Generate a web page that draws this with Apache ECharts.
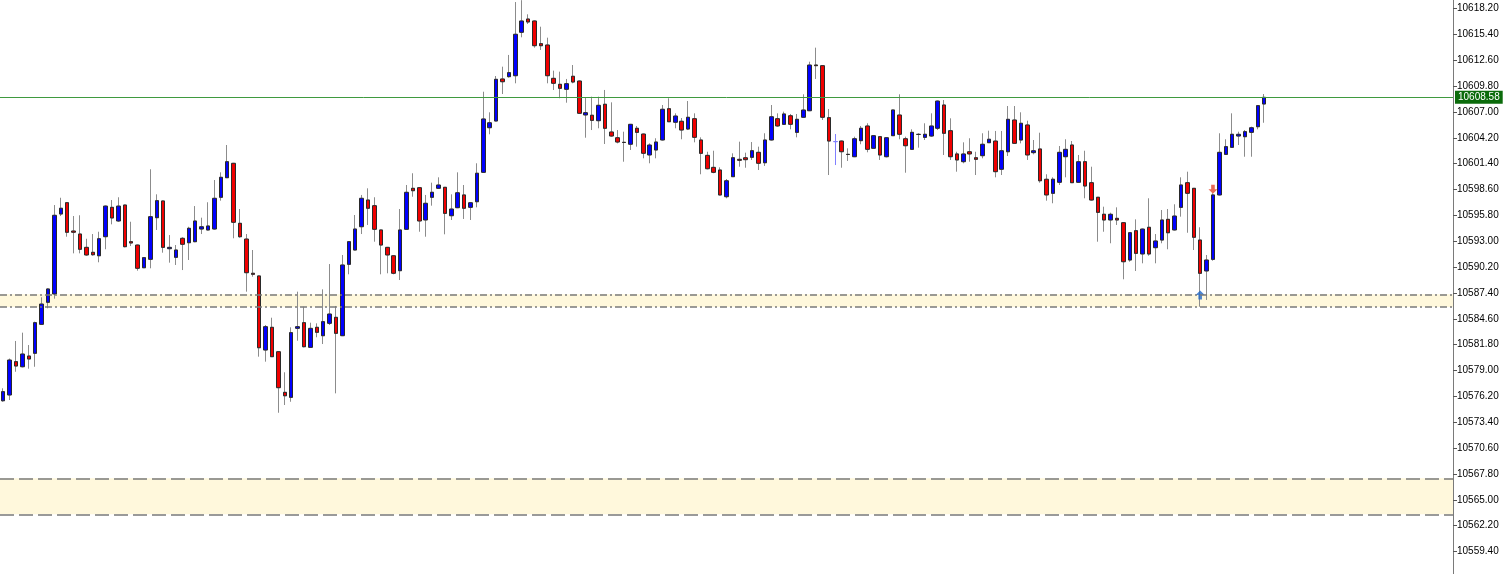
<!DOCTYPE html>
<html><head><meta charset="utf-8">
<script src="https://cdn.jsdelivr.net/npm/echarts@6/dist/echarts.min.js"></script>
<style>html,body{margin:0;padding:0;background:#fff}#c{width:1511px;height:574px}</style>
</head><body><div id="c"></div>
<script>
// [open, close, low, high]
const ohlc = [
[10575.73,10576.71,10575.62,10577.08],[10576.35,10580.14,10575.81,10580.30],[10579.96,10579.49,10578.87,10582.20],[10579.41,10580.79,10579.35,10583.10],
[10580.57,10580.25,10579.20,10581.76],[10580.87,10584.18,10579.41,10584.29],[10584.00,10586.20,10583.95,10586.93],[10586.39,10587.83,10585.74,10587.90],
[10587.29,10595.81,10586.78,10596.92],[10595.95,10596.57,10595.73,10597.71],[10597.17,10593.97,10593.49,10597.20],[10594.11,10593.97,10591.69,10595.73],
[10593.78,10592.13,10591.69,10595.81],[10592.34,10591.51,10591.43,10593.27],[10591.80,10591.54,10591.43,10593.78],[10591.43,10593.27,10590.72,10594.03],
[10593.49,10596.81,10592.13,10596.85],[10596.67,10595.52,10594.83,10597.46],[10595.19,10596.81,10595.10,10597.76],[10596.92,10592.41,10592.34,10596.95],
[10592.95,10592.81,10592.48,10595.11],[10592.59,10590.07,10589.81,10592.62],[10590.13,10591.22,10590.10,10591.25],[10591.04,10595.66,10590.07,10600.79],
[10595.55,10597.39,10594.22,10598.08],[10597.36,10592.34,10591.76,10597.40],[10592.19,10592.34,10590.68,10593.67],[10591.26,10592.05,10590.43,10592.59],
[10593.32,10592.67,10589.88,10593.43],[10592.84,10594.40,10590.97,10594.57],[10592.95,10595.19,10592.90,10596.81],[10594.32,10594.57,10593.78,10595.55],
[10594.22,10594.65,10594.18,10597.22],[10594.32,10597.65,10594.28,10599.63],[10597.76,10599.92,10597.39,10600.46],[10599.88,10601.61,10599.85,10603.42],
[10601.44,10595.05,10593.32,10601.47],[10594.94,10593.49,10593.38,10596.49],[10593.24,10589.59,10587.54,10593.78],[10589.53,10589.42,10589.16,10592.05],
[10589.24,10581.47,10580.50,10589.27],[10581.22,10583.75,10579.96,10583.93],[10583.68,10580.50,10580.47,10584.72],[10581.04,10577.14,10574.43,10581.07],
[10576.64,10576.27,10575.27,10578.81],[10576.10,10583.10,10575.62,10583.68],[10583.57,10583.75,10582.23,10587.54],[10584.18,10581.58,10581.51,10585.91],
[10581.51,10583.57,10581.48,10584.18],[10583.68,10583.14,10582.60,10584.11],[10582.77,10584.29,10581.87,10587.79],[10584.11,10585.12,10583.93,10590.53],
[10584.76,10583.03,10576.53,10585.99],[10582.77,10590.43,10582.74,10591.51],[10590.50,10592.95,10589.42,10592.98],[10592.05,10594.32,10592.02,10595.84],
[10594.57,10597.65,10593.78,10598.01],[10597.46,10596.57,10594.76,10598.73],[10596.85,10594.29,10592.95,10597.76],[10594.22,10592.59,10589.42,10594.25],
[10592.34,10591.51,10589.53,10592.37],[10591.43,10589.53,10589.42,10591.46],[10589.81,10594.22,10588.80,10596.49],[10594.29,10598.30,10594.26,10599.09],
[10598.73,10598.47,10597.82,10600.36],[10598.80,10595.19,10594.03,10598.83],[10595.30,10597.11,10593.49,10598.01],[10597.76,10598.30,10596.85,10599.34],
[10598.73,10599.09,10598.70,10599.92],[10598.84,10596.02,10593.75,10598.87],[10595.76,10596.49,10595.30,10598.08],[10596.63,10598.25,10596.60,10600.46],
[10598.01,10596.57,10595.41,10599.09],[10596.67,10597.17,10595.30,10597.20],[10597.28,10600.36,10596.67,10601.44],[10600.46,10606.24,10600.43,10609.19],
[10605.29,10605.83,10604.58,10606.96],[10606.02,10610.53,10605.99,10610.89],[10610.57,10610.27,10608.94,10611.90],[10610.82,10611.25,10610.71,10613.17],
[10610.92,10615.41,10610.10,10618.90],[10615.62,10616.85,10615.08,10619.10],[10617.06,10616.74,10616.52,10617.57],[10616.85,10614.17,10613.96,10616.88],
[10614.39,10614.17,10613.71,10616.23],[10614.25,10610.92,10610.10,10615.04],[10610.64,10610.10,10609.38,10611.47],[10609.99,10609.56,10608.48,10611.36],
[10609.45,10610.06,10608.00,10610.57],[10610.86,10610.24,10610.10,10612.08],[10610.35,10606.85,10606.78,10610.38],[10606.67,10606.92,10604.21,10608.58],
[10606.64,10606.09,10605.04,10608.65],[10606.05,10607.72,10605.23,10608.65],[10607.83,10605.23,10603.53,10609.38],[10604.83,10604.39,10604.32,10608.04],
[10604.21,10603.74,10603.60,10605.04],[10603.71,10603.69,10601.61,10604.86],[10603.50,10605.66,10602.88,10605.69],[10605.23,10604.79,10603.24,10605.48],
[10604.61,10602.52,10601.98,10604.64],[10602.34,10603.42,10601.44,10603.60],[10602.88,10603.74,10601.98,10604.15],[10603.96,10607.29,10603.93,10607.75],
[10607.35,10605.94,10605.91,10608.48],[10605.88,10606.56,10605.23,10606.85],[10605.99,10605.04,10604.04,10606.34],[10605.15,10606.42,10605.04,10608.18],
[10606.27,10604.25,10603.71,10606.85],[10603.96,10602.52,10600.25,10604.25],[10602.30,10600.85,10600.79,10602.69],[10601.00,10600.46,10600.36,10602.80],
[10600.71,10598.01,10597.98,10601.00],[10597.82,10599.55,10597.65,10599.74],[10599.99,10602.04,10599.96,10602.52],[10601.87,10601.76,10601.07,10603.78],
[10602.04,10601.83,10600.96,10602.59],[10602.09,10602.80,10601.80,10603.74],[10602.63,10601.44,10600.71,10603.24],[10601.50,10603.96,10601.15,10604.69],
[10603.96,10606.48,10603.93,10607.75],[10606.27,10605.48,10605.40,10606.85],[10605.66,10606.78,10605.59,10607.03],[10606.59,10605.66,10605.12,10606.78],
[10604.79,10606.20,10604.25,10606.78],[10606.42,10607.21,10606.39,10608.91],[10607.13,10612.08,10607.10,10612.44],[10612.08,10612.01,10610.57,10613.96],
[10612.01,10606.42,10606.13,10612.04],[10606.38,10603.85,10600.17,10607.32],[10603.78,10603.80,10601.25,10604.61],[10603.85,10602.69,10600.96,10603.88],
[10602.41,10602.39,10601.69,10603.06],[10602.15,10604.10,10602.12,10604.32],[10603.89,10605.23,10603.50,10605.48],[10605.48,10602.95,10602.63,10605.77],
[10603.06,10604.43,10603.03,10604.46],[10604.32,10602.34,10601.80,10604.35],[10602.15,10604.21,10602.09,10604.24],[10604.43,10607.21,10604.40,10607.24],
[10606.67,10604.58,10604.04,10608.91],[10604.10,10603.34,10600.42,10604.32],[10602.95,10604.79,10602.92,10605.12],[10604.58,10604.56,10603.13,10604.69],
[10604.25,10604.58,10603.96,10605.77],[10604.39,10605.48,10604.32,10606.85],[10605.23,10608.18,10605.04,10608.21],[10607.75,10604.69,10602.34,10608.29],
[10604.97,10602.15,10601.80,10606.31],[10602.45,10601.80,10600.53,10602.69],[10601.61,10602.45,10601.44,10603.71],[10602.69,10602.45,10601.61,10604.15],
[10602.04,10601.87,10600.17,10602.69],[10602.26,10603.50,10601.98,10604.69],[10603.67,10604.04,10603.64,10604.97],[10603.85,10600.53,10599.92,10604.94],
[10600.79,10602.80,10600.17,10604.94],[10602.69,10606.20,10602.23,10607.64],[10606.13,10603.60,10603.57,10607.64],[10603.96,10605.77,10603.60,10606.96],
[10605.59,10602.34,10601.80,10606.05],[10602.59,10602.80,10602.41,10603.96],[10602.99,10599.55,10599.34,10604.75],[10599.71,10598.01,10597.39,10600.25],
[10598.19,10599.71,10597.11,10599.92],[10599.38,10602.63,10599.09,10603.31],[10602.15,10602.95,10599.92,10604.04],[10603.42,10599.34,10599.31,10603.85],
[10599.38,10601.61,10599.35,10602.34],[10601.61,10598.98,10597.65,10602.80],[10599.34,10597.46,10597.43,10601.07],[10597.76,10596.13,10592.95,10597.79],
[10595.92,10595.30,10594.03,10596.74],[10595.30,10595.92,10592.78,10596.09],[10595.48,10595.30,10594.76,10596.67],[10595.01,10590.78,10588.88,10595.04],
[10590.97,10593.92,10590.78,10593.95],[10594.14,10591.69,10589.78,10595.37],[10591.62,10594.32,10590.61,10594.35],[10594.51,10591.62,10591.43,10597.65],
[10592.30,10593.03,10590.61,10593.78],[10593.13,10595.30,10592.78,10596.38],[10595.37,10593.92,10592.13,10596.49],[10594.22,10595.73,10594.19,10597.00],
[10596.67,10599.09,10595.66,10599.92],[10599.34,10598.19,10593.92,10600.53],[10598.73,10593.43,10592.05,10598.76],[10593.13,10589.53,10585.91,10594.51],
[10589.78,10590.97,10586.64,10591.51],[10591.04,10598.01,10590.89,10598.19],[10598.01,10602.63,10597.98,10604.69],[10602.41,10603.24,10602.34,10604.04],
[10603.17,10604.58,10603.14,10606.85],[10604.39,10604.58,10603.42,10604.86],[10604.32,10604.86,10602.15,10605.04],[10604.79,10605.29,10602.15,10605.40],
[10605.40,10607.68,10605.12,10607.71],[10607.86,10608.58,10605.83,10608.94]
];
const slotCount = 227;
const categories = Array.from({length: slotCount}, (_, i) => String(i + 1));
const tickValues = [10559.40,10562.20,10565.00,10567.80,10570.60,10573.40,10576.20,10579.00,10581.80,10584.60,10587.40,
  10590.20,10593.00,10595.80,10598.60,10601.40,10604.20,10607.00,10609.80,10612.60,10615.40,10618.20];
const yRange = [10556.97, 10619.12];
const lastPrice = 10608.58;
const upperZone = [10587.25, 10585.88];
const lowerZone = [10567.33, 10563.43];
const buyMarks = [[187, 10587.18]];
const sellMarks = [[189, 10598.62]];
const highlightIdx = [130];

const FONT = 'Liberation Sans';
const wickData = ohlc.map((r, i) => highlightIdx.includes(i)
  ? {value: r, itemStyle: {borderColor: '#8080ff', borderColor0: '#8080ff', color: '#8080ff', color0: '#8080ff'}} : r);
const bodyData = ohlc.map((r, i) => {
  const v = [r[0], r[1], Math.min(r[0], r[1]), Math.max(r[0], r[1])];
  return highlightIdx.includes(i) ? {value: v, itemStyle: {borderColor: '#8080ff', borderColor0: '#8080ff'}} : v;
});

const chart = echarts.init(document.getElementById('c'), null, {renderer: 'canvas'});
chart.setOption({
  animation: false,
  backgroundColor: '#ffffff',
  grid: {left: 0, right: 58, top: 0, bottom: 0},
  xAxis: {type: 'category', data: categories, boundaryGap: true, show: false},
  yAxis: {
    type: 'value', position: 'right', min: yRange[0], max: yRange[1], scale: true,
    splitLine: {show: false},
    axisLine: {show: true, lineStyle: {color: '#7a7a7a', width: 1}},
    axisTick: {show: true, length: 4, customValues: tickValues, lineStyle: {color: '#555'}},
    axisLabel: {customValues: tickValues, formatter: v => v.toFixed(2), color: '#000', fontSize: 10, fontFamily: FONT, margin: 4}
  },
  series: [
    {
      type: 'line', data: [], z: 1, silent: true,
      markArea: {
        silent: true, itemStyle: {color: '#fff8dc'},
        data: [[{yAxis: upperZone[0]}, {yAxis: upperZone[1]}], [{yAxis: lowerZone[0]}, {yAxis: lowerZone[1]}]]
      },
      markLine: {
        silent: true, symbol: 'none', animation: false,
        data: [
          {yAxis: upperZone[0], lineStyle: {color: '#7a7a7a', width: 1.5, type: [7, 3, 2, 3]}, label: {show: false}},
          {yAxis: upperZone[1], lineStyle: {color: '#7a7a7a', width: 1.5, type: [7, 3, 2, 3]}, label: {show: false}},
          {yAxis: lowerZone[0], lineStyle: {color: '#7a7a7a', width: 1.5, type: [14, 5]}, label: {show: false}},
          {yAxis: lowerZone[1], lineStyle: {color: '#7a7a7a', width: 1.5, type: [14, 5]}, label: {show: false}}
        ]
      }
    },
    {
      type: 'candlestick', data: wickData, z: 2, barWidth: 3, silent: true,
      itemStyle: {color: '#8c8c8c', color0: '#8c8c8c', borderColor: '#8c8c8c', borderColor0: '#8c8c8c', borderColorDoji: '#8c8c8c', borderWidth: 1}
    },
    {
      type: 'candlestick', data: bodyData, z: 3, barWidth: 4, silent: true,
      itemStyle: {color: '#0000ff', color0: '#f00000', borderColor: '#2a2a2a', borderColor0: '#2a2a2a', borderColorDoji: '#2a2a2a', borderWidth: 1}
    },
    {
      type: 'line', data: [], z: 5, silent: true, color: '#3f9a3f',
      markLine: {
        silent: true, symbol: 'none', animation: false,
        lineStyle: {color: '#3f9a3f', width: 1, type: 'solid', opacity: 1},
        data: [{
          yAxis: lastPrice,
          lineStyle: {color: '#3f9a3f', width: 1, type: 'solid'},
          label: {show: true, position: 'end', distance: 2, formatter: () => lastPrice.toFixed(2),
            color: '#ffffff', backgroundColor: '#0b6b0b', padding: [2, 3, 1, 3], fontSize: 10, fontFamily: FONT}
        }]
      }
    },
    {
      type: 'scatter', data: buyMarks, z: 4, silent: true, symbolSize: [9, 9],
      symbol: 'path://M5,0 L10,5 L7,5 L7,10 L3,10 L3,5 L0,5 Z',
      itemStyle: {color: '#1f66c8'}
    },
    {
      type: 'scatter', data: sellMarks, z: 4, silent: true, symbolSize: [9, 9],
      symbol: 'path://M3,0 L7,0 L7,5 L10,5 L5,10 L0,5 L3,5 Z',
      itemStyle: {color: '#e2452c'}
    }
  ]
});
</script></body></html>
